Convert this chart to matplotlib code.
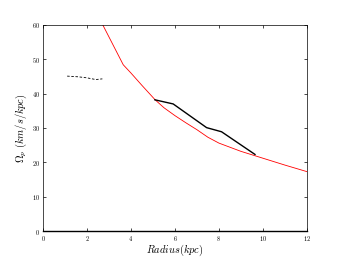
import matplotlib
matplotlib.use('Agg')
import matplotlib.pyplot as plt

plt.rcParams['mathtext.fontset'] = 'cm'
plt.rcParams['font.family'] = 'serif'
plt.rcParams['font.serif'] = ['cmr10', 'DejaVu Serif']
plt.rcParams['axes.formatter.use_mathtext'] = True

# red curve
red_r = [2.6, 3.65, 4.0, 4.5, 5.1, 5.5, 6.0, 6.5, 7.0, 7.5, 8.0, 9.0, 10.0, 11.0, 12.0, 12.3]
red_omega = [61.5, 48.4, 46.0, 42.4, 38.2, 35.9, 33.6, 31.5, 29.5, 27.3, 25.6, 23.2, 21.2, 19.2, 17.3, 16.9]

# black measured pattern speed
black_r = [5.09, 5.92, 7.44, 8.12, 9.64]
black_omega = [38.2, 37.0, 30.1, 28.9, 22.3]

# dashed inner segment
dash_r = [1.1, 1.6, 2.0, 2.4, 2.7]
dash_omega = [45.1, 44.9, 44.6, 44.1, 44.3]

fig = plt.figure(figsize=(3.41, 2.57), dpi=100)
ax = fig.add_axes([0.126, 0.101, 0.774, 0.802])

ax.plot(red_r, red_omega, color='red', lw=0.6)
ax.plot(black_r, black_omega, color='black', lw=1.0)
ax.plot(dash_r, dash_omega, color='black', lw=0.6, ls='--', dashes=(3, 2))

ax.set_xlim(0, 12)
ax.set_ylim(0, 60)
ax.set_xticks(range(0, 13, 2))
ax.set_yticks(range(0, 61, 10))
ax.tick_params(direction='in', top=True, right=True, labelsize=4.5,
               length=2.5, width=0.5, pad=2)
for s in ax.spines.values():
    s.set_linewidth(0.5)
ax.spines['bottom'].set_linewidth(1.0)

ax.set_xlabel(r'$Radius(kpc)$', fontsize=7.5, labelpad=0)
ax.set_ylabel(r'$\Omega_p\ (km/s/kpc)$', fontsize=7.5, labelpad=2)

fig.savefig('out.png', dpi=100)
